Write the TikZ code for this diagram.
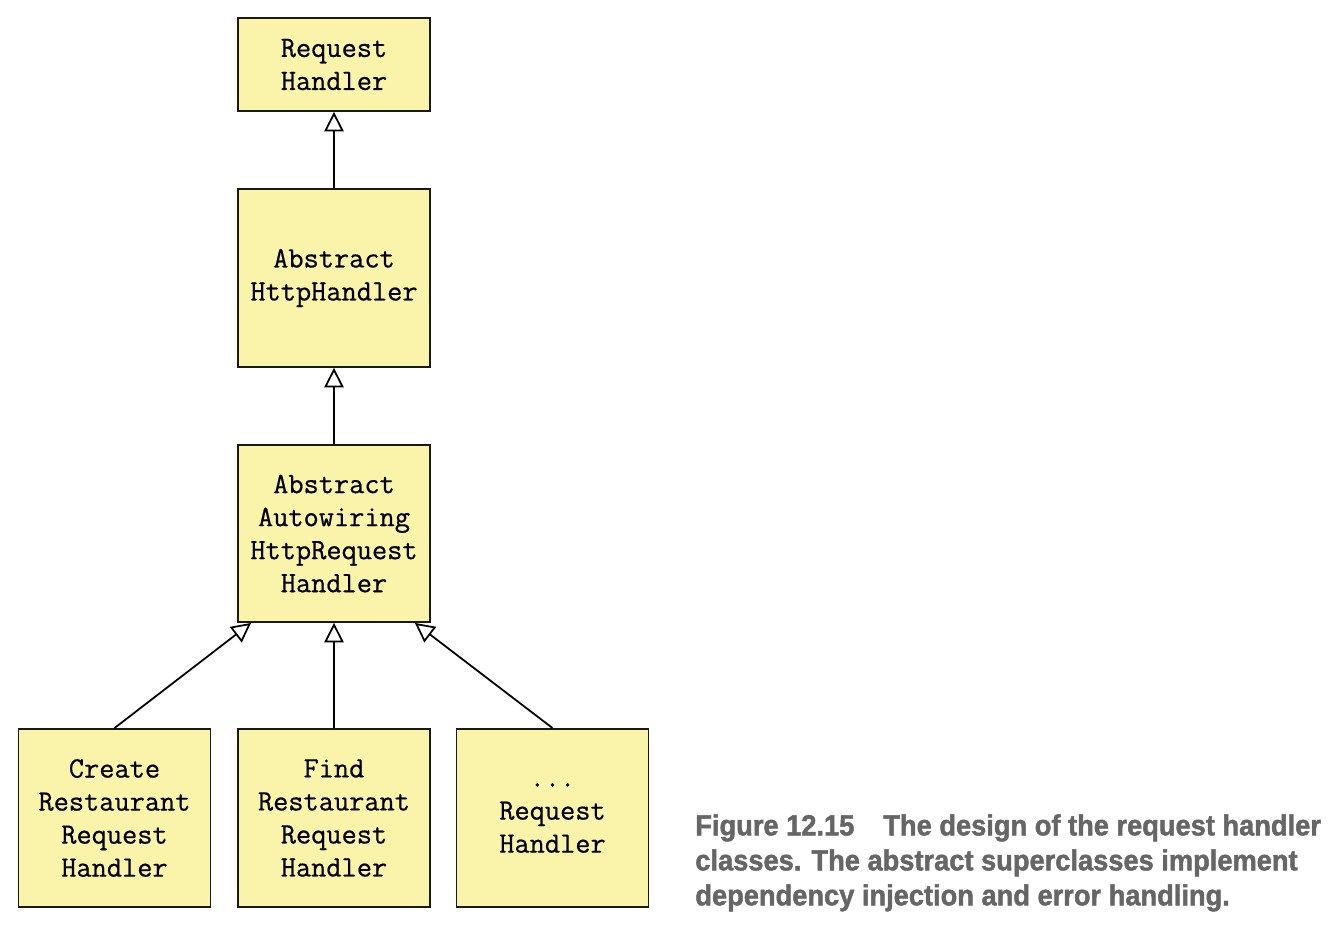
\documentclass[tikz,border=0pt]{standalone}
\usepackage{fontspec}
\usepackage{tikz}
\usepackage{xcolor}
\usetikzlibrary{arrows.meta}
\setmonofont[FakeBold=0.5]{Latin Modern Mono}
\newfontfamily\capfont[FakeStretch=0.94, FakeBold=1.6, UprightFont={* Bold}]{Liberation Sans}
\definecolor{classfill}{RGB}{250,243,170}
\definecolor{capgray}{RGB}{102,102,102}
\tikzset{
  classbox/.style={draw=black!90, line width=1.1pt, fill=classfill, inner sep=0pt,
    minimum width=3.84cm, align=center, font=\ttfamily\fontsize{16.8}{18.8}\selectfont},
  inherit/.style={line width=1pt, -{Triangle[length=11pt, width=11pt, fill=white, line width=1pt]}}
}

\begin{document}
\begin{tikzpicture}[x=0.02cm,y=-0.02cm]
\useasboundingbox (0,0) rectangle (1340,924);
% class hierarchy
\node[classbox, minimum height=1.86cm] (reqh) at (334,64.5) {Request\\Handler};
\node[classbox, minimum height=3.56cm] (ahttp) at (334,278) {Abstract\\HttpHandler};
\node[classbox, minimum height=3.54cm] (aawh) at (334,533.5) {Abstract\\Autowiring\\HttpRequest\\Handler};
\node[classbox, minimum height=3.56cm] (create) at (114.5,818) {Create\\Restaurant\\Request\\Handler};
\node[classbox, minimum height=3.56cm] (find) at (334,818) {Find\\Restaurant\\Request\\Handler};
\node[classbox, minimum height=3.56cm] (other) at (552.5,818) {...\\Request\\Handler};
% generalisation arrows
\draw[inherit] (ahttp.north) -- (reqh.south);
\draw[inherit] (aawh.north) -- (ahttp.south);
\draw[inherit] (find.north) -- (aawh.south);
\draw[inherit] (create.north) -- ([xshift=0.28cm]aawh.south west);
\draw[inherit] (other.north) -- ([xshift=-0.32cm]aawh.south east);
% caption
\node[anchor=north west, inner sep=0pt, align=left, text=capgray,
  font=\capfont\fontsize{16.5}{19.9}\selectfont] (caption) at (695,814)
  {Figure 12.15\hspace{1em}The design of the request handler\\
   classes. The abstract superclasses implement\\
   dependency injection and error handling.};
\end{tikzpicture}
\end{document}
